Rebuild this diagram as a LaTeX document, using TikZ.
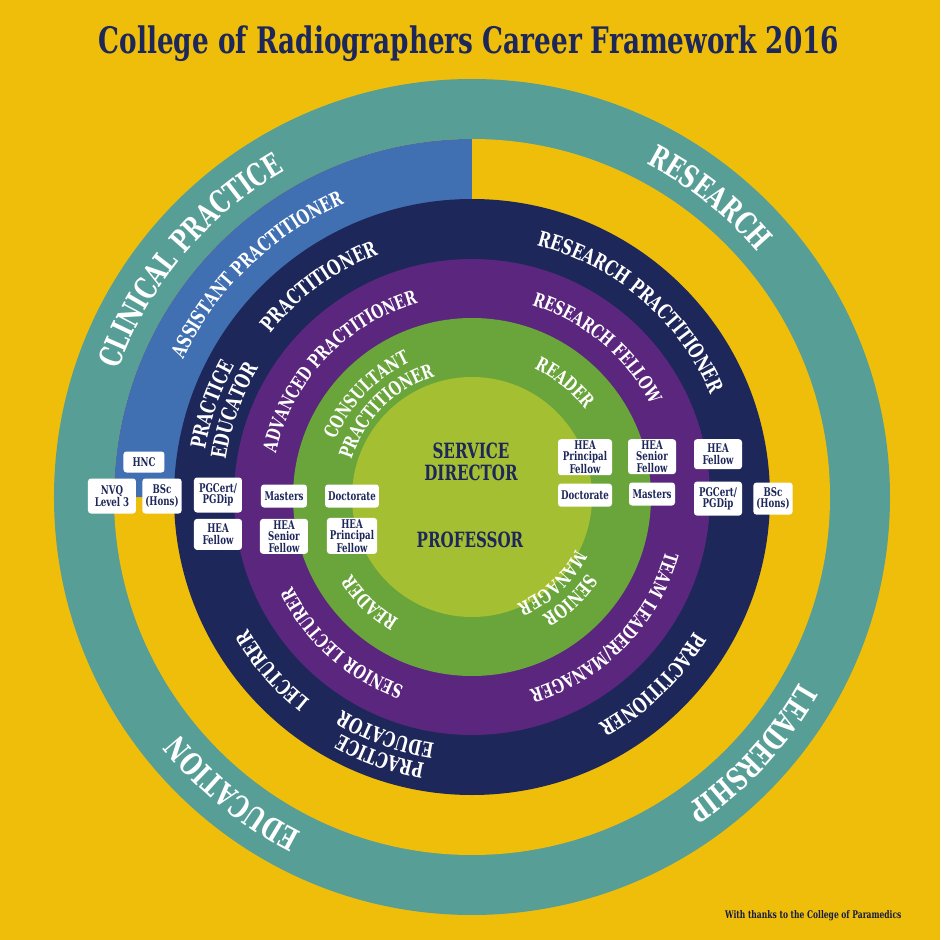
\documentclass[tikz,border=0pt]{standalone}
\usepackage{fontspec}
\setmainfont{DejaVu Serif}[FakeStretch=0.72]
\usepackage{tikz}
\usetikzlibrary{positioning, decorations.text}
\definecolor{cryellow}{HTML}{EEBE0B}
\definecolor{crteal}{HTML}{579E97}
\definecolor{crblue}{HTML}{4070B2}
\definecolor{crnavy}{HTML}{1E2759}
\definecolor{crpurple}{HTML}{5B267D}
\definecolor{crgreen}{HTML}{6AA53B}
\definecolor{crlime}{HTML}{A4BF32}

\begin{document}
\begin{tikzpicture}[x=1pt, y=1pt,
  ringtext/.style 2 args={decorate, decoration={text along path, text align=center,
      text color=white, text={|\fontsize{#1}{#1}\selectfont\bfseries|#2}}},
  qual/.style={rectangle, rounded corners=3pt, fill=white, text=crnavy,
      minimum width=48pt, minimum height=23pt, inner xsep=3pt, inner ysep=1.5pt,
      align=center, font=\fontsize{12}{11.5}\selectfont\bfseries},
  centre/.style={text=crnavy, align=center, font=\fontsize{21}{22}\selectfont\bfseries},
  node distance=6pt
]
  \path[use as bounding box, fill=cryellow] (-472,-443) rectangle (468,497);
  \coordinate (c) at (0,0);

  % rings
  \fill[crteal] (c) circle[radius=418pt];
  \fill[cryellow] (c) circle[radius=358pt];
  \fill[crblue] (c) -- (90:358pt) arc[start angle=90, end angle=180, radius=358pt] -- cycle;
  \fill[crnavy] (c) circle[radius=298pt];
  \fill[crpurple] (c) circle[radius=238pt];
  \fill[crgreen] (c) circle[radius=179pt];
  \fill[crlime] (c) circle[radius=120pt];

  % outer ring
  \path[ringtext={31}{CLINICAL PRACTICE}] (210:376pt) arc[start angle=210, end angle=70, radius=376pt];
  \path[ringtext={31}{RESEARCH}] (121.5:376pt) arc[start angle=121.5, end angle=-18.5, radius=376pt];
  \path[ringtext={31}{LEADERSHIP}] (27.5:376pt) arc[start angle=27.5, end angle=-112.5, radius=376pt];
  \path[ringtext={31}{EDUCATION}] (-59:376pt) arc[start angle=-59, end angle=-199, radius=376pt];

  % blue ring
  \path[ringtext={20}{ASSISTANT PRACTITIONER}] (204:320pt) arc[start angle=204, end angle=64, radius=320pt];

  % navy ring
  \path[ringtext={21}{PRACTITIONER}] (196:260pt) arc[start angle=196, end angle=56, radius=260pt];
  \path[ringtext={21}{PRACTICE}] (230.5:271pt) arc[start angle=230.5, end angle=90.5, radius=271pt];
  \path[ringtext={21}{EDUCATOR}] (230:249pt) arc[start angle=230, end angle=90, radius=249pt];
  \path[ringtext={21}{RESEARCH PRACTITIONER}] (119.4:260pt) arc[start angle=119.4, end angle=-20.6, radius=260pt];
  \path[ringtext={21}{PRACTITIONER}] (24:260pt) arc[start angle=24, end angle=-116, radius=260pt];
  \path[ringtext={21}{PRACTICE}] (-39.5:271pt) arc[start angle=-39.5, end angle=-179.5, radius=271pt];
  \path[ringtext={21}{EDUCATOR}] (-40:249pt) arc[start angle=-40, end angle=-180, radius=249pt];
  \path[ringtext={21}{LECTURER}] (-69:260pt) arc[start angle=-69, end angle=-209, radius=260pt];

  % purple ring
  \path[ringtext={19}{ADVANCED PRACTITIONER}] (206.5:201pt) arc[start angle=206.5, end angle=66.5, radius=201pt];
  \path[ringtext={19}{RESEARCH FELLOW}] (120:201pt) arc[start angle=120, end angle=-20, radius=201pt];
  \path[ringtext={19}{TEAM LEADER/MANAGER}] (25.5:201pt) arc[start angle=25.5, end angle=-114.5, radius=201pt];
  \path[ringtext={19}{SENIOR LECTURER}] (-61.6:201pt) arc[start angle=-61.6, end angle=-201.6, radius=201pt];

  % green ring
  \path[ringtext={19}{CONSULTANT}] (206:148pt) arc[start angle=206, end angle=66, radius=148pt];
  \path[ringtext={19}{PRACTITIONER}] (205:126pt) arc[start angle=205, end angle=65, radius=126pt];
  \path[ringtext={19}{READER}] (121:143pt) arc[start angle=121, end angle=-19, radius=143pt];
  \path[ringtext={19}{SENIOR}] (23.5:138pt) arc[start angle=23.5, end angle=-116.5, radius=138pt];
  \path[ringtext={19}{MANAGER}] (23:116pt) arc[start angle=23, end angle=-117, radius=116pt];
  \path[ringtext={19}{READER}] (-64:143pt) arc[start angle=-64, end angle=-204, radius=143pt];

  % centre
  \node[centre] (director) at (-1,35) {SERVICE\\DIRECTOR};
  \node[centre] (prof) at (-2,-43) {PROFESSOR};

  % qualifications, left
  \node[qual, minimum height=35pt] (lnvq) at (-360,1) {NVQ\\Level 3};
  \node[qual, minimum width=36pt, minimum height=35pt, right=of lnvq] (lbsc) {BSc\\(Hons)};
  \node[qual, minimum width=41pt, minimum height=21pt] (lhnc) at (-328,35) {HNC};
  \node[qual, minimum height=35pt] (lpgc) at (-254,2) {PGCert/\\PGDip};
  \node[qual, minimum height=31pt, below=of lpgc] (lheaf) {HEA\\Fellow};
  \node[qual, minimum width=46pt] (lmast) at (-188,1) {Masters};
  \node[qual, below=11pt of lmast] (lheas) {HEA\\Senior\\Fellow};
  \node[qual, minimum width=52pt] (ldoc) at (-120,1) {Doctorate};
  \node[qual, below=10pt of ldoc] (lheap) {HEA\\Principal\\Fellow};

  % qualifications, right
  \node[qual, anchor=north, minimum width=54pt] (rheap) at (113,58) {HEA\\Principal\\Fellow};
  \node[qual, minimum width=54pt, below=8pt of rheap] (rdoc) {Doctorate};
  \node[qual, anchor=north] (rheas) at (180,58) {HEA\\Senior\\Fellow};
  \node[qual, minimum width=46pt, below=8pt of rheas] (rmast) {Masters};
  \node[qual, anchor=north, minimum height=30pt] (rheaf) at (246,58) {HEA\\Fellow};
  \node[qual, minimum height=34pt, below=12pt of rheaf] (rpgc) {PGCert/\\PGDip};
  \node[qual, minimum width=36pt, minimum height=32pt, right=11pt of rpgc] (rbsc) {BSc\\(Hons)};

  % title and credit
  \node[text=crnavy, anchor=base, font=\fontsize{36.5}{38}\selectfont\bfseries] (title) at (-3,443)
    {College of Radiographers Career Framework 2016};
  \node[text=crnavy!70!black, anchor=base east, font=\fontsize{10.5}{12}\selectfont\bfseries] (thanks) at (433,-421)
    {With thanks to the College of Paramedics};
\end{tikzpicture}
\end{document}
